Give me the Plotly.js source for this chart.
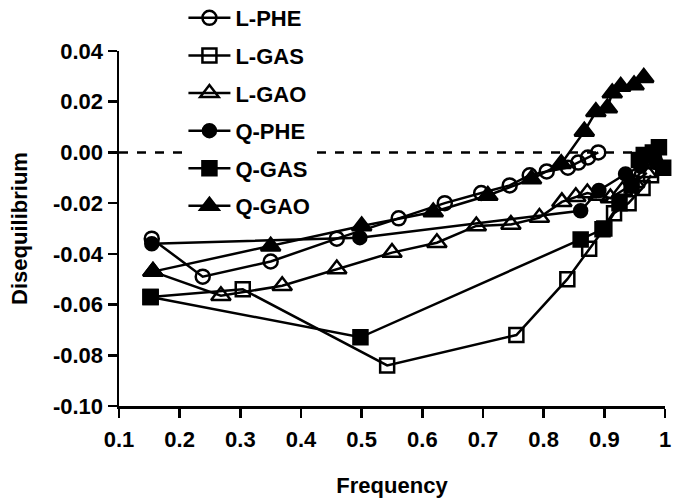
<!DOCTYPE html>
<html>
<head>
<meta charset="utf-8">
<script src="https://cdn.plot.ly/plotly-3.0.1.min.js"></script>
<style>html,body{margin:0;padding:0;background:#fff}#chart{width:673px;height:498px}</style>
</head>
<body>
<div id="chart"></div>
<script>
// ---- data ----
const seriesNames = ["L-PHE", "L-GAS", "L-GAO", "Q-PHE", "Q-GAS", "Q-GAO"];

const lpheX = [0.154, 0.238, 0.350, 0.459, 0.561, 0.637, 0.697, 0.744, 0.777, 0.805, 0.840, 0.857, 0.873, 0.890];
const lpheY = [-0.034, -0.049, -0.043, -0.034, -0.026, -0.020, -0.016, -0.013, -0.009, -0.0075, -0.006, -0.004, -0.002, 0.000];

const lgasX = [0.152, 0.304, 0.542, 0.755, 0.839, 0.875, 0.900, 0.916, 0.940, 0.963, 0.977];
const lgasY = [-0.057, -0.054, -0.084, -0.072, -0.050, -0.038, -0.030, -0.024, -0.020, -0.014, -0.009];

const lgaoX = [0.156, 0.268, 0.369, 0.459, 0.550, 0.624, 0.689, 0.746, 0.793, 0.830, 0.853, 0.872, 0.890, 0.910, 0.930, 0.950, 0.970];
const lgaoY = [-0.047, -0.0565, -0.0526, -0.046, -0.0395, -0.0356, -0.029, -0.0284, -0.0257, -0.0195, -0.0175, -0.016, -0.017, -0.018, -0.015, -0.012, -0.008];

const qpheX = [0.154, 0.497, 0.861, 0.891, 0.935, 0.960, 0.985];
const qpheY = [-0.036, -0.0336, -0.023, -0.0150, -0.0085, -0.0055, -0.004];

const qgasX = [0.152, 0.498, 0.861, 0.897, 0.925, 0.945, 0.957, 0.965, 0.980, 0.990, 0.997];
const qgasY = [-0.057, -0.0729, -0.0343, -0.0303, -0.020, -0.013, -0.003, -0.001, 0.000, 0.002, -0.006];

const qgaoX = [0.156, 0.350, 0.500, 0.618, 0.708, 0.780, 0.829, 0.867, 0.886, 0.905, 0.913, 0.927, 0.949, 0.965];
const qgaoY = [-0.047, -0.037, -0.029, -0.0235, -0.017, -0.0105, -0.0045, 0.0083, 0.0160, 0.0175, 0.0234, 0.0260, 0.0266, 0.0295];

const xTickVals = [0.1, 0.2, 0.3, 0.4, 0.5, 0.6, 0.7, 0.8, 0.9, 1.0];
const xTickText = ["0.1", "0.2", "0.3", "0.4", "0.5", "0.6", "0.7", "0.8", "0.9", "1"];
const yTickVals = [0.04, 0.02, 0.00, -0.02, -0.04, -0.06, -0.08, -0.10];
const yTickText = ["0.04", "0.02", "0.00", "-0.02", "-0.04", "-0.06", "-0.08", "-0.10"];

// ---- styling ----
const FONT = "Liberation Sans, Arial, sans-serif";
const symbols = ["circle-open", "square-open", "triangle-up-open", "circle", "square", "triangle-up"];
const sizes = [14, 14, 17, 13, 14, 17];
const xs = [lpheX, lgasX, lgaoX, qpheX, qgasX, qgaoX];
const ys = [lpheY, lgasY, lgaoY, qpheY, qgasY, qgaoY];

const traces = seriesNames.map((name, i) => ({
  type: "scatter",
  mode: "lines+markers",
  name: name,
  legendgroup: "g" + i,
  x: xs[i],
  y: ys[i],
  cliponaxis: false,
  line: {color: "#000", width: 2.5},
  marker: {symbol: symbols[i], size: sizes[i], color: "#000", line: {color: "#000", width: 2.5}}
}));

const bold = (s) => ({family: FONT, size: s, color: "#000", weight: "bold"});

const layout = {
  width: 673,
  height: 498,
  margin: {l: 119, r: 8, t: 51, b: 92, autoexpand: false},
  paper_bgcolor: "#fff",
  plot_bgcolor: "rgba(0,0,0,0)",
  font: {family: FONT, color: "#000", size: 22},
  showlegend: true,
  legend: {
    x: 0.118, y: 1.152, xanchor: "left", yanchor: "top",
    bgcolor: "#fff", borderwidth: 0,
    font: bold(22),
    tracegroupgap: 6, itemwidth: 42
  },
  xaxis: {
    range: [0.1, 1.0], showgrid: false, zeroline: false,
    showline: true, linecolor: "#000", linewidth: 2.5,
    ticks: "outside", ticklen: 9, tickwidth: 2.5, tickcolor: "#000",
    tickvals: xTickVals, ticktext: xTickText,
    ticklabeloverflow: "allow", ticklabelstandoff: 3,
    tickfont: bold(22),
    title: {text: "Frequency", standoff: 30, font: bold(22)},
    automargin: false
  },
  yaxis: {
    range: [-0.10, 0.04], showgrid: false, zeroline: false,
    showline: true, linecolor: "#000", linewidth: 2.5,
    ticks: "outside", ticklen: 9, tickwidth: 2.5, tickcolor: "#000",
    tickvals: yTickVals, ticktext: yTickText,
    tickfont: bold(22),
    title: {text: "Disequilibrium", standoff: 19, font: bold(22)},
    automargin: false
  },
  shapes: [{
    type: "line", xref: "x", yref: "y", x0: 0.1, x1: 1.0, y0: 0, y1: 0,
    line: {color: "#000", width: 2.5, dash: "dash"}, layer: "below"
  }]
};

Plotly.newPlot("chart", traces, layout, {displayModeBar: false, staticPlot: true});
</script>
</body>
</html>
